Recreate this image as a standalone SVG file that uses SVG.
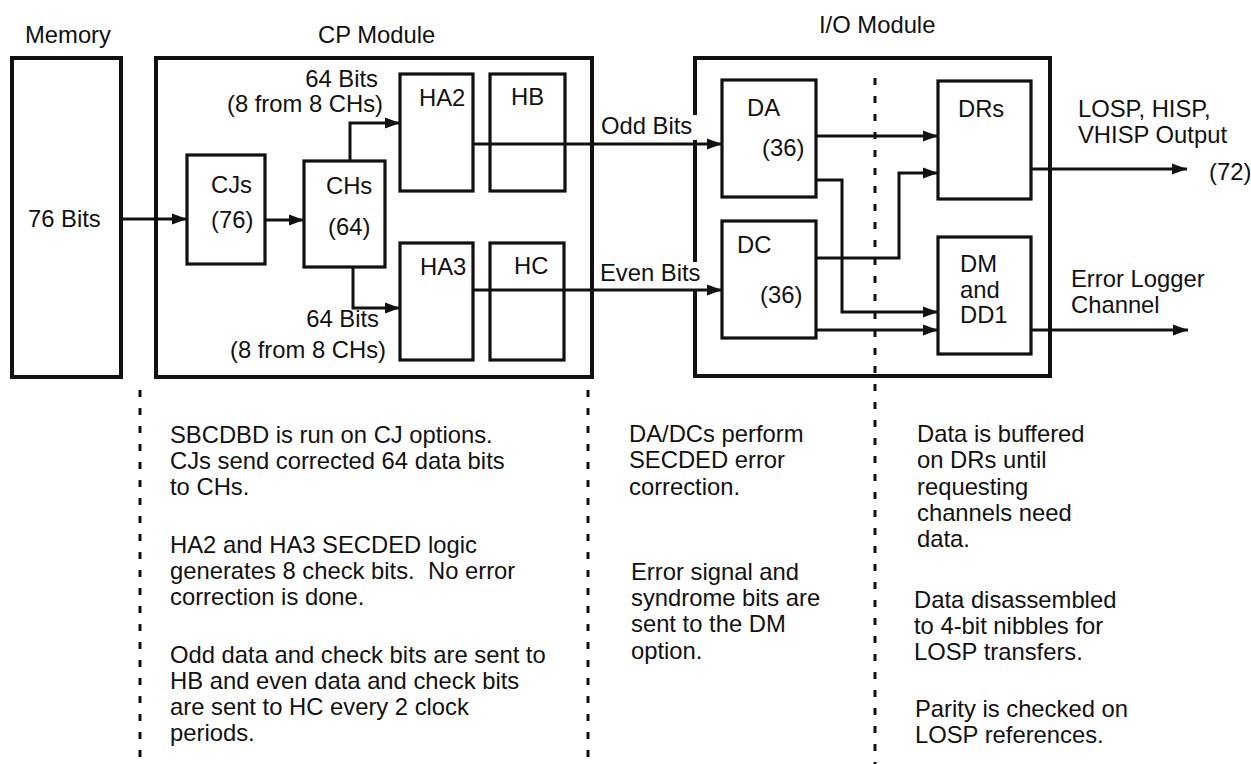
<svg xmlns="http://www.w3.org/2000/svg" width="1251" height="764" viewBox="0 0 1251 764">
<style>
text{font-family:"Liberation Sans",Arial,sans-serif;font-size:23.8px;fill:#111;white-space:pre}
.box{fill:none;stroke:#111;stroke-width:3.2}
.mod{fill:none;stroke:#111;stroke-width:4}
.ln{fill:none;stroke:#111;stroke-width:3}
.dash{fill:none;stroke:#111;stroke-width:3;stroke-dasharray:7 11}
</style>
<defs>
<marker id="ah" markerUnits="userSpaceOnUse" markerWidth="16" markerHeight="12" refX="15" refY="6" orient="auto">
<path d="M0,0.5 L15,6 L0,11.5 z" fill="#111"/>
</marker>
</defs>
<rect width="1251" height="764" fill="#fff"/>

<g id="labels">
<text x="25" y="43">Memory</text>
<text x="318" y="43">CP Module</text>
<text x="819" y="33">I/O Module</text>
</g>

<g id="memory">
<rect class="mod" x="12" y="58" width="109" height="319"/>
<text x="28" y="227">76 Bits</text>
</g>

<g id="cp-module">
<rect class="mod" x="156" y="58" width="436" height="319"/>
</g>

<g id="io-module">
<path class="mod" d="M695,115 V58 H1050 V376 H695 V290 M695,262 V140"/>
</g>

<g id="cjs">
<rect class="box" x="187" y="155" width="78" height="109"/>
<text x="211" y="193">CJs</text>
<text x="211" y="228">(76)</text>
</g>

<g id="chs">
<rect class="box" x="304" y="161" width="81" height="106"/>
<text x="326" y="194">CHs</text>
<text x="328" y="235">(64)</text>
</g>

<g id="ha2">
<rect class="box" x="400" y="74" width="73" height="117"/>
<text x="419" y="106">HA2</text>
</g>
<g id="hb">
<rect class="box" x="490" y="74" width="75" height="117"/>
<text x="511" y="105">HB</text>
</g>
<g id="ha3">
<rect class="box" x="400" y="243" width="73" height="117"/>
<text x="420" y="275">HA3</text>
</g>
<g id="hc">
<rect class="box" x="490" y="243" width="74" height="117"/>
<text x="514" y="274">HC</text>
</g>

<g id="da">
<rect class="box" x="722" y="80" width="94" height="117"/>
<text x="747" y="116">DA</text>
<text x="762" y="156">(36)</text>
</g>
<g id="dc">
<rect class="box" x="722" y="221" width="94" height="117"/>
<text x="737" y="253">DC</text>
<text x="760" y="303">(36)</text>
</g>
<g id="drs">
<rect class="box" x="938" y="81" width="93" height="118"/>
<text x="958" y="117">DRs</text>
</g>
<g id="dm">
<rect class="box" x="938" y="237" width="93" height="117"/>
<text x="960" y="272">DM</text>
<text x="960" y="298">and</text>
<text x="960" y="323">DD1</text>
</g>

<g id="connectors">
<path class="ln" d="M121,219 H187" marker-end="url(#ah)"/>
<path class="ln" d="M265,220 H304" marker-end="url(#ah)"/>
<path class="ln" d="M350,161 V123 H400" marker-end="url(#ah)"/>
<path class="ln" d="M353,267 V308 H400" marker-end="url(#ah)"/>
<path class="ln" d="M473,144 H722" marker-end="url(#ah)"/>
<path class="ln" d="M473,290 H722" marker-end="url(#ah)"/>
<path class="ln" d="M816,136 H938" marker-end="url(#ah)"/>
<path class="ln" d="M816,180 H842 V312 H938" marker-end="url(#ah)"/>
<path class="ln" d="M816,258 H899 V173 H938" marker-end="url(#ah)"/>
<path class="ln" d="M816,330 H938" marker-end="url(#ah)"/>
<path class="ln" d="M1031,169 H1187" marker-end="url(#ah)"/>
<path class="ln" d="M1031,330 H1188" marker-end="url(#ah)"/>
</g>

<g id="connector-labels">
<text x="378" y="87" text-anchor="end">64 Bits</text>
<text x="383" y="112" text-anchor="end">(8 from 8 CHs)</text>
<text x="379" y="327" text-anchor="end">64 Bits</text>
<text x="386" y="358" text-anchor="end">(8 from 8 CHs)</text>
<text x="601" y="134">Odd Bits</text>
<text x="600" y="281">Even Bits</text>
<text x="1078" y="117">LOSP, HISP,</text>
<text x="1078" y="143">VHISP Output</text>
<text x="1209" y="180">(72)</text>
<text x="1071" y="287">Error Logger</text>
<text x="1071" y="313">Channel</text>
</g>

<g id="dividers">
<line class="dash" x1="140" y1="390" x2="140" y2="764"/>
<line class="dash" x1="588" y1="390" x2="588" y2="764"/>
<line class="dash" x1="875" y1="78" x2="875" y2="764"/>
</g>

<g id="notes">
<text x="170" y="443">SBCDBD is run on CJ options.</text>
<text x="170" y="469">CJs send corrected 64 data bits</text>
<text x="170" y="495">to CHs.</text>
<text x="170" y="553">HA2 and HA3 SECDED logic</text>
<text x="170" y="579">generates 8 check bits.  No error</text>
<text x="170" y="605">correction is done.</text>
<text x="170" y="663">Odd data and check bits are sent to</text>
<text x="170" y="689">HB and even data and check bits</text>
<text x="170" y="715">are sent to HC every 2 clock</text>
<text x="170" y="741">periods.</text>

<text x="629" y="442">DA/DCs perform</text>
<text x="629" y="468">SECDED error</text>
<text x="629" y="495">correction.</text>
<text x="631" y="580">Error signal and</text>
<text x="631" y="606">syndrome bits are</text>
<text x="631" y="632">sent to the DM</text>
<text x="631" y="659">option.</text>

<text x="917" y="442">Data is buffered</text>
<text x="917" y="468">on DRs until</text>
<text x="917" y="495">requesting</text>
<text x="917" y="521">channels need</text>
<text x="917" y="547">data.</text>
<text x="914" y="608">Data disassembled</text>
<text x="914" y="634">to 4-bit nibbles for</text>
<text x="914" y="660">LOSP transfers.</text>
<text x="915" y="717">Parity is checked on</text>
<text x="915" y="743">LOSP references.</text>
</g>
</svg>
